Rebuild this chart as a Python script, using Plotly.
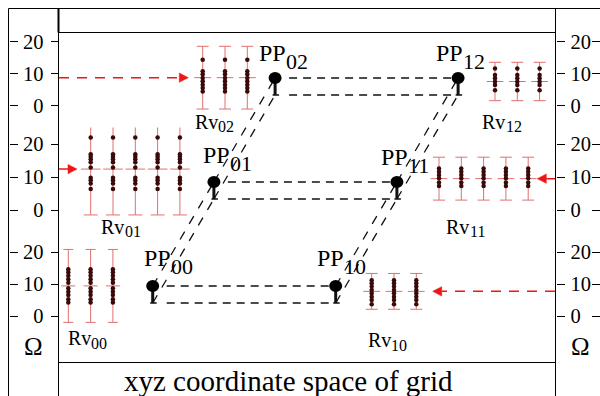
import plotly.graph_objects as go

W, H = 600, 396
SERIF = "Liberation Serif"

# ---- resistance readings per grid point (Ω) ----
rv_ids = ["00", "01", "02", "10", "11", "12"]
rv_mean = [9.4, 12.4, 8.7, 7.7, 9.5, 7.5]
rv_spread = [11.4, 13.9, 9.8, 5.6, 6.5, 6.0]
rv_repeats = [3, 5, 3, 3, 5, 3]
rv_samples_00 = [14.6, 13.7, 12.6, 11.5, 10.4, 8.7, 7.6, 6.6, 5.2, 4.2]
rv_samples_01 = [22.0, 16.9, 16.1, 15.4, 14.5, 12.9, 9.8, 9.0, 8.0, 6.4]
rv_samples_02 = [14.3, 10.7, 9.8, 8.6, 7.6, 6.5, 5.5, 4.4]
rv_samples_10 = [11.2, 10.2, 9.2, 8.1, 7.1, 6.0, 5.0, 3.7]
rv_samples_11 = [12.6, 11.6, 10.6, 9.6, 8.3, 7.3]
rv_samples_12 = [11.6, 9.5, 8.5, 7.4, 6.4, 4.8]
rv_samples = [rv_samples_00, rv_samples_01, rv_samples_02,
              rv_samples_10, rv_samples_11, rv_samples_12]

tick_values = [0, 10, 20]
tick_labels = ["0", "10", "20"]
axis_unit = "Ω"
footer_text = "xyz coordinate space of grid"

# ---- geometry (canvas pixels) ----
band_zero = [105.5, 210.0, 316.0]     # pixel row of 0 Ω, top/middle/bottom band
band_scale = [3.2, 3.3, 3.2]          # pixels per Ω
band_range = [-5, 25]
rv_band = [2, 1, 0, 2, 1, 0]
rv_first_x = [68.3, 90.7, 202.7, 371.7, 439.0, 495.0]
rv_step = 22.3
rv_cap = [5, 7, 6, 6, 6, 6]
rv_label_x = [91.8, 125.2, 218.5, 391.8, 470.2, 506.2]
rv_label_y = [338.3, 226.7, 121.7, 340.3, 226.7, 121.5]

# probe points of a 2 x 3 grid in oblique projection
pp_origin = (152.7, 286.0)
pp_step_i = (183.0, 0.0)
pp_step_j = (61.2, -104.0)
pp_stem = 17
pp_label_off = {(0, 0): (19, -27.7), (0, 1): (16.7, -27), (0, 2): (12, -25),
                (1, 0): (9.5, -28), (1, 1): (12, -25.3), (1, 2): (5.7, -25)}

ERR = "rgb(224,112,112)"
DOT = "#3a0a0a"
RED = "rgb(240,20,20)"
INK = "#111111"

fig = go.Figure()


def band_domain(b):
    lo_px = band_zero[b] - band_range[0] * band_scale[b]
    hi_px = band_zero[b] - band_range[1] * band_scale[b]
    return [1 - lo_px / H, 1 - hi_px / H]


def node(i, j):
    return (pp_origin[0] + i * pp_step_i[0] + j * pp_step_j[0],
            pp_origin[1] + i * pp_step_i[1] + j * pp_step_j[1])


# ---- resistance blocks: error bars + individual readings ----
for k, gid in enumerate(rv_ids):
    b = rv_band[k]
    yax = f"y{b + 2}"
    n = rv_repeats[k]
    xs = [rv_first_x[k] + c * rv_step for c in range(n)]
    fig.add_trace(go.Scatter(
        x=xs, y=[rv_mean[k]] * n, xaxis="x", yaxis=yax, mode="markers",
        marker=dict(symbol="line-ew", size=2 * rv_cap[k], line=dict(width=1, color=ERR)),
        error_y=dict(type="data", array=[rv_spread[k]] * n, color=ERR,
                     thickness=1, width=rv_cap[k]),
        showlegend=False, hoverinfo="skip"))
    fig.add_trace(go.Scatter(
        x=[x for x in xs for _ in rv_samples[k]],
        y=rv_samples[k] * n, xaxis="x", yaxis=yax, mode="markers",
        marker=dict(size=4.5, color=DOT), showlegend=False, hoverinfo="skip"))

# ---- probe points ----
shapes = []
dash_h = "8px,6px"
dash_d = "9px,9px"
for i in range(2):
    for j in range(3):
        x, y = node(i, j)
        shapes.append(dict(type="line", xref="x", yref="y", x0=x, y0=y, x1=x, y1=y + pp_stem,
                           line=dict(color=INK, width=3)))
        shapes.append(dict(type="line", xref="x", yref="y", x0=x - 2.5, y0=y + pp_stem,
                           x1=x + 4, y1=y + pp_stem, line=dict(color=INK, width=1.5)))
        if j < 2:
            x2, y2 = node(i, j + 1)
            for off in (0, pp_stem):
                shapes.append(dict(type="line", xref="x", yref="y", x0=x, y0=y + off,
                                   x1=x2, y1=y2 + off,
                                   line=dict(color=INK, width=1.3, dash=dash_d)))
for j in range(3):
    xa, ya = node(0, j)
    xb, yb = node(1, j)
    for off in (0, pp_stem):
        shapes.append(dict(type="line", xref="x", yref="y", x0=xa + 14, y0=ya + off,
                           x1=xb - 6, y1=yb + off,
                           line=dict(color=INK, width=1.3, dash=dash_h)))

nodes = [node(i, j) for i in range(2) for j in range(3)]
for x, y in nodes:
    shapes.append(dict(type="circle", xref="x", yref="y", x0=x - 6.5, x1=x + 6.5,
                       y0=y - 6.0, y1=y + 6.0, fillcolor="black", line=dict(width=0)))

annotations = []
for i in range(2):
    for j in range(3):
        x, y = node(i, j)
        dx, dy = pp_label_off[(i, j)]
        annotations.append(dict(x=x + dx, y=y + dy, xref="x", yref="y", text="PP",
                                xanchor="right", yanchor="middle", showarrow=False,
                                borderpad=0, font=dict(family=SERIF, size=24, color="black")))
        annotations.append(dict(x=x + dx - 2, y=y + dy + 8.5, xref="x", yref="y",
                                text=f"{i}{j}", xanchor="left", yanchor="middle",
                                showarrow=False, borderpad=0,
                                font=dict(family=SERIF, size=22, color="black")))

for k, gid in enumerate(rv_ids):
    annotations.append(dict(x=rv_label_x[k], y=rv_label_y[k], xref="x", yref="y", text="Rv",
                            xanchor="right", yanchor="middle", showarrow=False, borderpad=0,
                            font=dict(family=SERIF, size=20, color="black")))
    annotations.append(dict(x=rv_label_x[k] - 1.5, y=rv_label_y[k] + 4.7, xref="x", yref="y",
                            text=gid, xanchor="left", yanchor="middle", showarrow=False,
                            borderpad=0, font=dict(family=SERIF, size=16, color="black")))

# ---- red pointers to the measured blocks ----
arrows = [  # (block index, tail x, tip x, dashed)
    (2, 59, 188.3, True),
    (1, 59, 77.0, False),
    (4, 555, 537.3, False),
    (3, 555, 432.7, True),
]
for k, tail, tip, dashed in arrows:
    b = rv_band[k]
    yref = f"y{b + 2}"
    yv = rv_mean[k]
    d = 1 if tip > tail else -1
    base = tip - d * 9
    h = 4.7 / band_scale[b]
    shapes.append(dict(type="line", xref="x", yref=yref, x0=tail, y0=yv, x1=base, y1=yv,
                       line=dict(color=RED, width=1.5, dash="10px,8px" if dashed else "solid")))
    shapes.append(dict(type="path", xref="x", yref=yref,
                       path=f"M {tip},{yv} L {base},{yv + h} L {base},{yv - h} Z",
                       fillcolor=RED, line=dict(color=RED, width=0.5)))

# ---- frame ----
frame = [
    (8.5, 8.5, 8.5, 396, 1), (8.5, 8.5, 600, 8.5, 1),
    (58.5, 8.5, 58.5, 396, 1), (58.5, 8.5, 58.5, 32.5, 2),
    (58.5, 32.5, 555.5, 32.5, 1), (555.5, 8.5, 555.5, 396, 1),
    (58.5, 362.5, 555.5, 362.5, 1),
]
for x0, y0, x1, y1, w in frame:
    shapes.append(dict(type="line", xref="x", yref="y", x0=x0, y0=y0, x1=x1, y1=y1,
                       line=dict(color="black", width=w)))

for ux in (33, 580):
    annotations.append(dict(x=ux, y=346.5, xref="x", yref="y", text=axis_unit,
                            showarrow=False, xanchor="center", yanchor="middle",
                            font=dict(family=SERIF, size=25, color="black")))
annotations.append(dict(x=288, y=381, xref="x", yref="y", text=footer_text,
                        showarrow=False, xanchor="center", yanchor="middle",
                        font=dict(family=SERIF, size=29, color="black")))

# ---- axes ----
tick_common = dict(range=band_range, tickvals=tick_values, ticktext=tick_labels,
                   ticks="outside", ticklen=8, tickwidth=1, tickcolor="black",
                   showline=False, showgrid=False, zeroline=False, fixedrange=True,
                   tickfont=dict(family=SERIF, size=20.5, color="black"))
layout_axes = dict(
    xaxis=dict(range=[0, W], domain=[0, 1], visible=False, fixedrange=True),
    yaxis=dict(range=[H, 0], domain=[0, 1], visible=False, fixedrange=True),
)
for b in range(3):
    base_id = b + 2
    layout_axes[f"yaxis{base_id}"] = dict(tick_common, domain=band_domain(b), anchor="free",
                                          position=58.5 / W, side="left",
                                          showticklabels=True, ticklabelstandoff=3)
    extra = [("right", 8.5 / W, False), ("right", 555.5 / W, True), ("left", 1.0, False)]
    for e, (side, pos, labels) in enumerate(extra):
        ax_id = 5 + 3 * b + e
        layout_axes[f"yaxis{ax_id}"] = dict(tick_common, overlaying=f"y{base_id}",
                                            anchor="free", position=pos, side=side,
                                            showticklabels=labels, ticklabelstandoff=2)
        fig.add_trace(go.Scatter(x=[None], y=[None], xaxis="x", yaxis=f"y{ax_id}",
                                 mode="markers", showlegend=False, hoverinfo="skip"))

fig.add_trace(go.Scatter(x=[None], y=[None], xaxis="x", yaxis="y", mode="markers",
                         showlegend=False, hoverinfo="skip"))

fig.update_layout(
    width=W, height=H, margin=dict(l=0, r=0, t=0, b=0),
    paper_bgcolor="white", plot_bgcolor="rgba(0,0,0,0)",
    font=dict(family=SERIF),
    shapes=shapes, annotations=annotations, showlegend=False,
    **layout_axes,
)

fig.write_html("out.html")
